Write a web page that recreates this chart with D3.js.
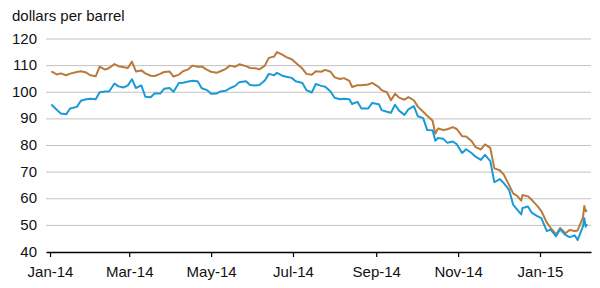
<!DOCTYPE html>
<html>
<head>
<meta charset="utf-8">
<script src="https://cdn.jsdelivr.net/npm/d3@7"></script>
<style>
  body { margin: 0; background: #fff; }
  text { font-family: "Liberation Sans", Arial, sans-serif; }
</style>
</head>
<body>
<div id="chart"></div>
<script>
// spot prices
var dates = ["2014-01-02","2014-01-06","2014-01-09","2014-01-13","2014-01-16","2014-01-21","2014-01-24","2014-01-28","2014-01-31",
  "2014-02-04","2014-02-07","2014-02-11","2014-02-14","2014-02-18","2014-02-21","2014-02-25","2014-02-28",
  "2014-03-03","2014-03-06","2014-03-10","2014-03-13","2014-03-17","2014-03-20","2014-03-24","2014-03-27","2014-03-31",
  "2014-04-03","2014-04-07","2014-04-10","2014-04-14","2014-04-17","2014-04-21","2014-04-24","2014-04-28",
  "2014-05-01","2014-05-05","2014-05-08","2014-05-12","2014-05-15","2014-05-19","2014-05-22","2014-05-27","2014-05-30",
  "2014-06-03","2014-06-06","2014-06-10","2014-06-13","2014-06-17","2014-06-19","2014-06-23","2014-06-26","2014-06-30",
  "2014-07-03","2014-07-08","2014-07-11","2014-07-15","2014-07-18","2014-07-22","2014-07-25","2014-07-29",
  "2014-08-01","2014-08-05","2014-08-08","2014-08-12","2014-08-14","2014-08-18","2014-08-21","2014-08-26","2014-08-29",
  "2014-09-03","2014-09-05","2014-09-09","2014-09-12","2014-09-15","2014-09-18","2014-09-22","2014-09-25","2014-09-29",
  "2014-10-02","2014-10-06","2014-10-09","2014-10-13","2014-10-15","2014-10-17","2014-10-21","2014-10-24","2014-10-28","2014-10-31",
  "2014-11-04","2014-11-07","2014-11-11","2014-11-14","2014-11-18","2014-11-21","2014-11-25","2014-11-28",
  "2014-12-02","2014-12-05","2014-12-09","2014-12-12","2014-12-15","2014-12-18","2014-12-19","2014-12-23","2014-12-26","2014-12-30",
  "2015-01-02","2015-01-06","2015-01-09","2015-01-13","2015-01-16","2015-01-20","2015-01-23","2015-01-27","2015-01-29",
  "2015-02-02","2015-02-03","2015-02-04","2015-02-05"];

var brent = [107.8,106.7,107.1,106.4,107.0,107.6,107.9,107.4,106.4,
  106.0,109.6,108.5,109.1,110.6,109.8,109.4,109.1,
  111.5,107.8,108.2,107.1,106.2,106.1,106.9,107.6,107.8,
  105.9,106.6,107.9,108.6,110.0,109.6,109.7,108.4,
  107.7,107.3,107.9,108.8,110.0,109.6,110.5,109.8,109.1,
  109.0,108.6,110.0,112.9,113.4,115.1,114.1,113.2,112.4,
  111.1,108.9,106.9,106.6,107.9,107.7,108.4,107.7,
  105.6,105.0,105.3,104.3,102.0,102.6,102.6,102.9,103.5,
  101.9,100.8,100.0,97.0,99.4,98.0,97.2,98.2,97.0,
  94.6,92.7,91.2,89.3,84.4,86.4,85.8,86.1,86.9,86.2,
  83.5,83.4,81.7,79.4,78.5,80.4,79.1,71.4,
  70.7,69.1,65.1,62.0,61.1,59.3,61.4,60.9,59.5,57.3,
  55.4,51.1,49.0,46.6,49.0,47.0,48.3,47.9,48.1,
  52.9,57.3,55.3,55.8];

var wti = [95.4,93.4,92.0,91.7,93.9,94.5,96.8,97.4,97.6,
  97.4,100.0,100.3,100.3,103.3,102.2,101.8,102.6,
  104.9,101.6,102.6,98.3,98.1,99.6,99.5,101.3,101.6,
  100.2,103.5,103.6,104.0,104.3,104.1,101.5,100.8,
  99.4,99.5,100.3,100.6,101.5,102.4,103.8,104.1,102.7,
  102.5,102.7,104.4,106.9,106.4,107.3,106.2,105.8,105.4,
  104.1,103.5,100.8,99.9,103.1,102.4,102.1,100.3,
  97.9,97.4,97.6,97.4,95.6,96.4,93.9,93.9,96.0,
  95.5,93.3,92.7,92.3,95.3,93.1,91.5,93.6,94.8,
  91.0,90.3,85.8,85.7,81.8,82.8,82.5,81.0,81.5,80.5,
  77.2,78.6,77.2,75.8,74.6,76.5,74.1,66.2,
  67.4,65.9,63.3,57.8,55.9,54.1,56.5,57.1,54.7,53.5,
  52.7,47.9,48.4,45.9,48.5,46.4,45.6,46.2,44.5,
  49.6,52.7,49.5,50.5];

var yTicks = [40, 50, 60, 70, 80, 90, 100, 110, 120];

var width = 600,
    height = 288;

var parse = d3.timeParse("%Y-%m-%d");

var series = [
  { name: "Brent", color: "#b97a3c", values: brent },
  { name: "WTI", color: "#1b9bd5", values: wti }
];

var x = d3.scaleTime()
    .domain([new Date(2013, 11, 29), new Date(2015, 1, 8)])
    .range([46, 591]);

var y = d3.scaleLinear()
    .domain([40, 120])
    .range([252, 39]);

var svg = d3.select("#chart")
    .append("svg")
    .attr("width", width)
    .attr("height", height);

svg.append("text")
    .attr("x", 12)
    .attr("y", 21)
    .style("font-size", "15px")
    .attr("fill", "#111")
    .text("dollars per barrel");

// gridlines
svg.append("g")
    .selectAll("line")
    .data(yTicks.slice(1))
    .enter().append("line")
    .attr("x1", 46)
    .attr("x2", 591)
    .attr("y1", function (d) { return y(d); })
    .attr("y2", function (d) { return y(d); })
    .attr("stroke", "#c2c2c2")
    .attr("stroke-width", 1);

// y labels
svg.append("g")
    .selectAll("text")
    .data(yTicks)
    .enter().append("text")
    .attr("x", 37)
    .attr("y", function (d) { return y(d) + 4.5; })
    .attr("text-anchor", "end")
    .style("font-size", "15px")
    .attr("fill", "#111")
    .text(function (d) { return d; });

// x axis
var xAxis = d3.axisBottom(x)
    .ticks(d3.timeMonth.every(2))
    .tickFormat(d3.timeFormat("%b-%y"))
    .tickSizeInner(5)
    .tickSizeOuter(0)
    .tickPadding(9);

var gx = svg.append("g")
    .attr("transform", "translate(0,252)")
    .call(xAxis);

gx.select(".domain")
    .attr("stroke", "#000")
    .attr("stroke-width", 1.5);
gx.selectAll(".tick line")
    .attr("stroke", "#000")
    .attr("stroke-width", 1.2);
gx.selectAll(".tick text")
    .style("font-size", "15px")
    .style("font-family", "'Liberation Sans', Arial, sans-serif")
    .attr("fill", "#111");

var line = d3.line()
    .x(function (d, i) { return x(parse(dates[i])); })
    .y(function (d) { return y(d); });

svg.append("g")
    .selectAll("path")
    .data(series)
    .enter().append("path")
    .attr("d", function (d) { return line(d.values); })
    .attr("fill", "none")
    .attr("stroke", function (d) { return d.color; })
    .attr("stroke-width", 2)
    .attr("stroke-linejoin", "round");
</script>
</body>
</html>
